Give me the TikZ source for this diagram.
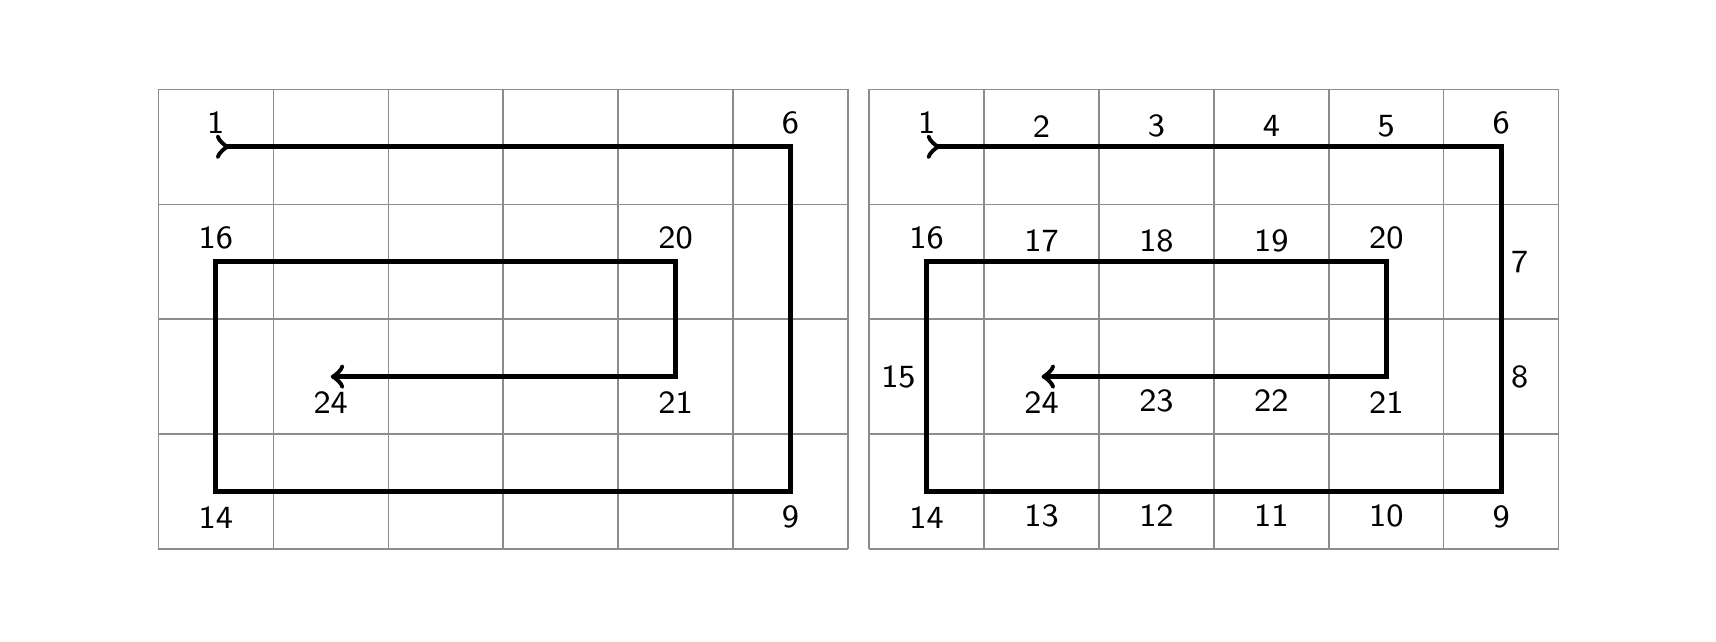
\documentclass[tikz,border=0pt]{standalone}
\begin{document}
\begin{tikzpicture}[x=1cm,y=1cm,
  gridline/.style={draw=black!45, line width=0.35pt},
  route/.style={line width=1.2pt, >->},
  lab/.style={font=\fontsize{8}{9}\sffamily, inner sep=0pt}]
\useasboundingbox (-1.378,-0.807) rectangle (13.554,4.777);
% ---------- left grid ----------
\begin{scope}
  \draw[gridline] (0,0) grid (6,4);
  \coordinate (a1) at (0.5,3.5);
  \coordinate (a6) at (5.5,3.5);
  \coordinate (a9) at (5.5,0.5);
  \coordinate (a14) at (0.5,0.5);
  \coordinate (a16) at (0.5,2.5);
  \coordinate (a20) at (4.5,2.5);
  \coordinate (a21) at (4.5,1.5);
  \coordinate (a24) at (1.5,1.5);
  \draw[route] (a1) -- (a6) -- (a9) -- (a14) -- (a16) -- (a20) -- (a21) -- (a24);
  \foreach \i in {1,6,16,20}
    \node[lab] (la\i) at ([yshift=0.21cm]a\i) {\i};
  \foreach \i in {9,14,21,24}
    \node[lab] (la\i) at ([yshift=-0.225cm]a\i) {\i};
\end{scope}
% ---------- right grid ----------
\begin{scope}[xshift=6.185cm]
  \draw[gridline] (0,0) grid (6,4);
  \foreach \i in {1,...,6}
    \coordinate (b\i) at (\i-0.5,3.5);
  \coordinate (b7) at (5.5,2.5);
  \coordinate (b8) at (5.5,1.5);
  \coordinate (b9) at (5.5,0.5);
  \foreach \i in {10,...,14}
    \coordinate (b\i) at (14.5-\i,0.5);
  \coordinate (b15) at (0.5,1.5);
  \foreach \i in {16,...,20}
    \coordinate (b\i) at (\i-15.5,2.5);
  \foreach \i in {21,...,24}
    \coordinate (b\i) at (25.5-\i,1.5);
  \draw[route] (b1) -- (b6) -- (b9) -- (b14) -- (b16) -- (b20) -- (b21) -- (b24);
  % corner labels
  \foreach \i in {1,6,16,20}
    \node[lab] (lb\i) at ([yshift=0.21cm]b\i) {\i};
  \foreach \i in {9,14,21,24}
    \node[lab] (lb\i) at ([yshift=-0.225cm]b\i) {\i};
  % middle labels
  \foreach \i in {2,3,4,5,17,18,19}
    \node[lab] (lb\i) at ([yshift=0.18cm]b\i) {\i};
  \foreach \i in {10,11,12,13,22,23}
    \node[lab] (lb\i) at ([yshift=-0.21cm]b\i) {\i};
  \foreach \i in {7,8}
    \node[lab] (lb\i) at ([xshift=0.16cm]b\i) {\i};
  \node[lab] (lb15) at ([xshift=-0.245cm]b15) {15};
\end{scope}
\end{tikzpicture}
\end{document}
